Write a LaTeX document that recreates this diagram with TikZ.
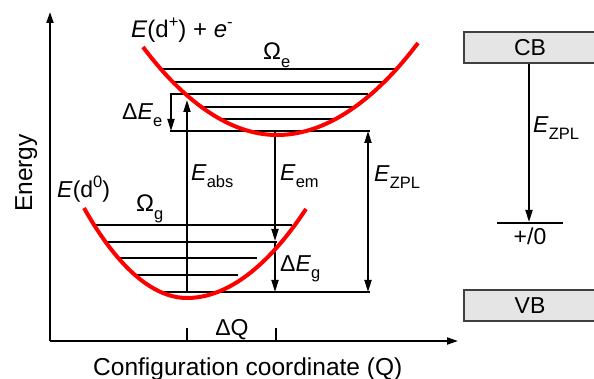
\documentclass[tikz,border=0pt]{standalone}
\usepackage{fontspec}
\setmainfont{Liberation Sans}
\usetikzlibrary{arrows.meta}
\newcommand{\lowsub}[1]{\raisebox{-0.3em}{\fontsize{16.5}{16.5}\selectfont #1}}
\newcommand{\highsup}[1]{\raisebox{0.45em}{\fontsize{16.5}{16.5}\selectfont #1}}
\begin{document}
\begin{tikzpicture}[x=1pt,y=-1pt,
  lbl/.style={font=\fontsize{23}{25}\selectfont, inner sep=0pt},
  toplbl/.style={font=\fontsize{24}{26}\selectfont, inner sep=0pt},
  biglbl/.style={font=\fontsize{24.5}{26}\selectfont, inner sep=0pt},
  axis/.style={line width=2pt, -{Triangle[length=11pt,width=7pt]}},
  arr/.style={line width=1.8pt, -{Triangle[length=12pt,width=7pt]}},
  darr/.style={line width=1.8pt, {Triangle[length=12pt,width=7pt]}-{Triangle[length=12pt,width=7pt]}},
  lvl/.style={line width=1.3pt},
  tick/.style={line width=1.3pt},
  pot/.style={red, line width=4pt},
  bandbox/.style={draw=black!75, fill=black!10, line width=1.3pt, minimum width=132pt, minimum height=31pt, inner sep=0pt, font=\fontsize{23}{25}\selectfont}]
\useasboundingbox (0,0) rectangle (594,379);

% axes
\coordinate (O) at (50,341);
\coordinate (ytop) at (50,12);
\coordinate (xend) at (458,341);
\draw[axis] (O) -- (ytop);
\draw[axis] (O) -- (xend);
\node[biglbl, rotate=90, anchor=base] (ylab) at (32,173) {Energy};
\node[biglbl, anchor=base west] (xlab) at (93,375) {Configuration coordinate (Q)};

% excited-state levels
\coordinate (e1L) at (163,69);  \coordinate (e1R) at (396,69);
\coordinate (e2L) at (173,82);  \coordinate (e2R) at (385,82);
\coordinate (e3L) at (170,94);  \coordinate (e3R) at (368,94);
\coordinate (e4L) at (200,107); \coordinate (e4R) at (355,107);
\coordinate (e5L) at (221,119); \coordinate (e5R) at (336,119);
\coordinate (e6L) at (170,131); \coordinate (e6R) at (370,131);
\foreach \i in {1,...,6} {\draw[lvl] (e\i L) -- (e\i R);}

% ground-state levels
\coordinate (g1L) at (95,225);  \coordinate (g1R) at (292,225);
\coordinate (g2L) at (105,242); \coordinate (g2R) at (277,242);
\coordinate (g3L) at (120,258); \coordinate (g3R) at (257,258);
\coordinate (g4L) at (133,275); \coordinate (g4R) at (238,275);
\coordinate (g5L) at (160,292); \coordinate (g5R) at (370,292);
\foreach \i in {1,...,5} {\draw[lvl] (g\i L) -- (g\i R);}

% transitions
\coordinate (deTop) at (171,94);
\coordinate (deBot) at (171,131);
\draw[arr] (deTop) -- (deBot);
\coordinate (absBot) at (187,292);
\coordinate (absTop) at (187,100);
\draw[arr] (absBot) -- (absTop);
\coordinate (emTop) at (275,131);
\coordinate (emBot) at (275,241);
\coordinate (dgBot) at (275,292);
\draw[arr] (emTop) -- (emBot);
\draw[arr] (emBot) -- (dgBot);
\coordinate (zTop) at (368,131);
\coordinate (zBot) at (368,292);
\draw[darr] (zTop) -- (zBot);

% potential curves (drawn over the levels)
\coordinate (uL) at (143,47);
\coordinate (uB) at (277,135);
\coordinate (uR) at (418,43);
\draw[pot] (uL) parabola bend (uB) (uR);
\coordinate (gL) at (84,208);
\coordinate (gB) at (187,298);
\coordinate (gR) at (306,209);
\draw[pot] (gL) parabola bend (gB) (gR);

% Delta Q ticks
\coordinate (t1a) at (187,328); \coordinate (t1b) at (187,341);
\coordinate (t2a) at (276,328); \coordinate (t2b) at (276,341);
\draw[tick] (t1a) -- (t1b);
\draw[tick] (t2a) -- (t2b);

% labels
\node[toplbl, anchor=base west] (lexc) at (131,38) {\textit{E}(d\highsup{+}) + \textit{e}\highsup{-}};
\node[toplbl, anchor=base west] (lOe) at (263,60) {Ω\lowsub{e}};
\node[lbl, anchor=base west] (lDEe) at (122,120) {Δ\textit{E}\lowsub{e}};
\node[lbl, anchor=base west] (labs) at (191,181) {\textit{E}\lowsub{abs}};
\node[lbl, anchor=base west] (lem) at (280,181) {\textit{E}\lowsub{em}};
\node[lbl, anchor=base west] (lzpl) at (374,182) {\textit{E}\lowsub{ZPL}};
\node[lbl, anchor=base west] (lgnd) at (57,198) {\textit{E}(d\highsup{0})};
\node[toplbl, anchor=base west] (lOg) at (136,212) {Ω\lowsub{g}};
\node[lbl, anchor=base west] (lDEg) at (280,272) {Δ\textit{E}\lowsub{g}};
\node[lbl, anchor=base] (lDQ) at (232,335) {ΔQ};

% band diagram
\node[bandbox] (cb) at (530,47.5) {CB};
\node[bandbox] (vb) at (530,305.5) {VB};
\coordinate (lvlTop) at (529,222);
\draw[arr] (cb.south -| lvlTop) -- (lvlTop);
\coordinate (trL) at (497,223);
\coordinate (trR) at (563,223);
\draw[lvl] (trL) -- (trR);
\node[lbl, anchor=base] (ltr) at (530,245) {+/0};
\node[lbl, anchor=base west] (lzpl2) at (533,133) {\textit{E}\lowsub{ZPL}};
\end{tikzpicture}
\end{document}
